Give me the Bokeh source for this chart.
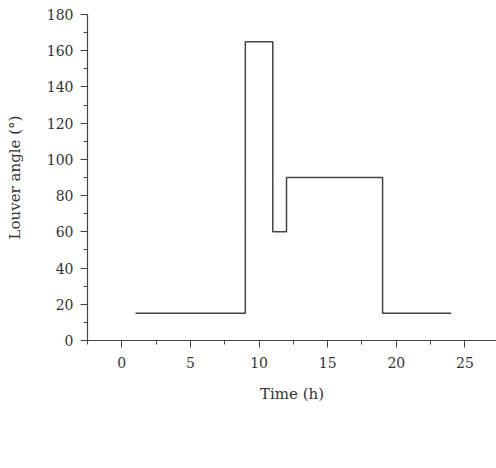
from bokeh.plotting import figure
from bokeh.models import Range1d, SingleIntervalTicker, Legend, LegendItem
from bokeh.embed import file_html
from bokeh.resources import INLINE

# Data
time_h = [1, 9, 11, 12, 19, 24]
louver_angle = [15, 165, 60, 90, 15, 15]
series_name = "North room louver inclination"
x_label = "Time (h)"
y_label = "Louver angle (°)"

FONT = "DejaVu Serif"
TXT = "#333333"
LINE = "#444444"

p = figure(output_backend="svg", toolbar_location=None,
           x_range=Range1d(-2.5, 27.3), y_range=Range1d(0, 180),
           frame_width=409, frame_height=326,
           min_border_left=87, min_border_right=0, min_border_top=14, min_border_bottom=0)
p.outline_line_color = None
p.grid.visible = False
p.background_fill_color = "white"
p.border_fill_color = "white"

r = p.step(time_h, louver_angle, mode="after", line_color=LINE, line_width=1.5)

p.xaxis.ticker = SingleIntervalTicker(interval=5, num_minor_ticks=2)
p.yaxis.ticker = SingleIntervalTicker(interval=20, num_minor_ticks=2)

for ax in (p.xaxis[0], p.yaxis[0]):
    ax.axis_line_color = LINE
    ax.axis_line_width = 1.2
    ax.major_tick_line_color = LINE
    ax.minor_tick_line_color = LINE
    ax.major_tick_out = 7
    ax.major_tick_in = 0
    ax.minor_tick_out = 4
    ax.minor_tick_in = 0
    ax.major_label_text_font = FONT
    ax.major_label_text_font_size = "14px"
    ax.major_label_text_color = TXT
    ax.axis_label_text_font = FONT
    ax.axis_label_text_font_size = "15px"
    ax.axis_label_text_font_style = "normal"
    ax.axis_label_text_color = TXT

p.xaxis.axis_label = x_label
p.yaxis.axis_label = y_label
p.xaxis.major_label_standoff = 9
p.xaxis.axis_label_standoff = 14
p.yaxis.major_label_standoff = 7
p.yaxis.axis_label_standoff = 20

legend = Legend(items=[LegendItem(label=series_name, renderers=[r])],
                location="top_left", orientation="vertical",
                border_line_color=None, background_fill_alpha=0,
                padding=0, margin=0, glyph_width=34, glyph_height=16,
                label_height=16, label_standoff=11,
                label_text_font=FONT, label_text_font_size="15px",
                label_text_color=TXT)
p.add_layout(legend, "below")

open("out.html", "w").write(file_html(p, INLINE))
